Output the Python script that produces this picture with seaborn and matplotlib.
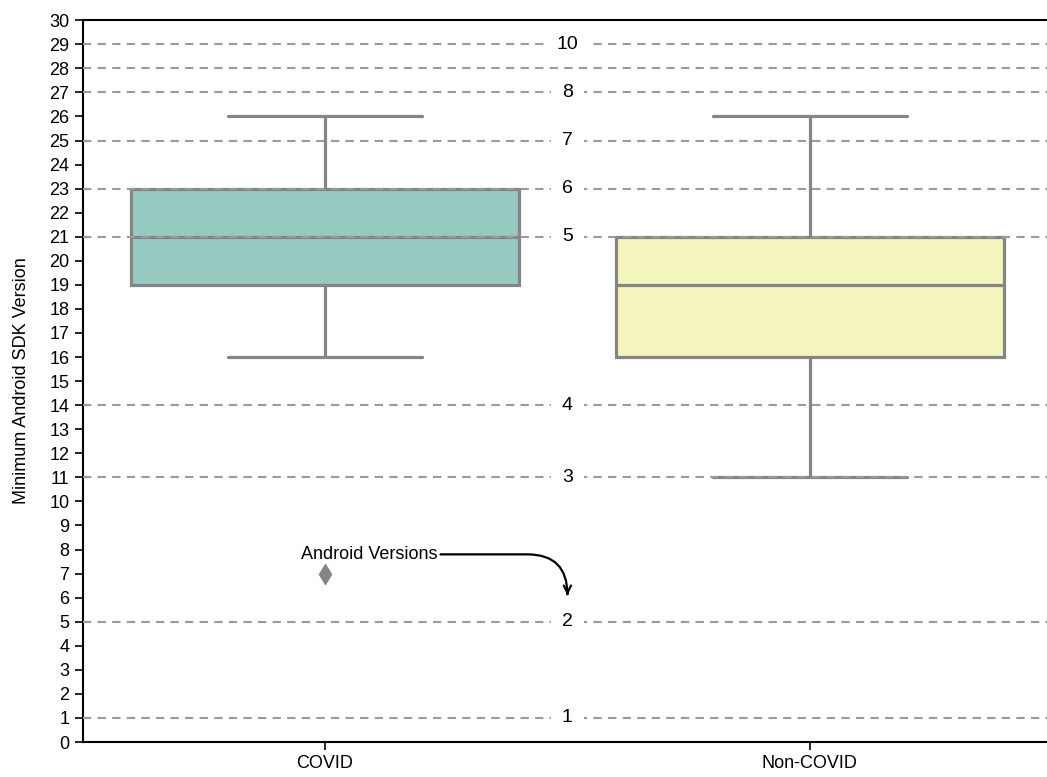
import matplotlib
matplotlib.use("Agg")
import matplotlib.pyplot as plt
import seaborn as sns
import pandas as pd

# Data (raw values chosen to reproduce the drawn quartiles / whiskers / outlier)
covid_sdk = [7, 16, 19, 19, 19, 21, 21, 23, 23, 23, 26]
non_covid_sdk = [11, 16, 16, 16, 19, 19, 19, 21, 21, 21, 26]
groups = ["COVID", "Non-COVID"]
box_colors = ["#96c9c0", "#f4f4bd"]

# Android version reference lines (API level -> version label)
api_levels = [1, 5, 11, 14, 21, 23, 25, 27, 28, 29]
version_labels = ["1", "2", "3", "4", "5", "6", "7", "8", "", "10"]

df = pd.DataFrame({
    "group": [groups[0]] * len(covid_sdk) + [groups[1]] * len(non_covid_sdk),
    "sdk": covid_sdk + non_covid_sdk,
})

sns.set_style("white")
plt.rcParams["font.family"] = ["Liberation Sans", "DejaVu Sans"]
plt.rcParams["text.color"] = "black"
plt.rcParams["axes.labelcolor"] = "black"

fig = plt.figure(figsize=(10.47, 7.77), dpi=100)
ax = fig.add_axes([0.0788, 0.045, 0.9212, 0.929])

gray = "#858585"
sns.boxplot(
    data=df, x="group", y="sdk", hue="group", palette=box_colors,
    order=groups, width=0.8, linewidth=2.3, linecolor=gray, saturation=1,
    flierprops=dict(marker="d", markersize=10, markerfacecolor=gray,
                    markeredgecolor=gray),
    legend=False, ax=ax,
)

# dashed version lines with labels in the middle
for lvl, lab in zip(api_levels, version_labels):
    ax.axhline(lvl, color="#9a9a9a", linestyle=(0, (4, 3)), linewidth=1.5, zorder=3)
    if lab:
        ax.text(0.5, lvl, lab, ha="center", va="center", fontsize=14, zorder=4,
                color="black",
                bbox=dict(facecolor="white", edgecolor="none", pad=8))

ax.annotate(
    "Android Versions", xy=(0.5, 6.1), xytext=(-0.05, 7.8),
    ha="left", va="center", fontsize=13, color="black",
    arrowprops=dict(arrowstyle="->", color="black", lw=1.6,
                    connectionstyle="angle,angleA=0,angleB=90,rad=40",
                    shrinkA=0, shrinkB=0),
    zorder=5,
)

ax.set_ylim(0, 30)
ax.set_xlim(-0.5, 1.489)
ax.set_yticks(range(0, 31))
ax.set_xlabel("")
ax.set_ylabel("Minimum Android SDK Version", fontsize=13, labelpad=14)
ax.tick_params(axis="both", labelsize=13, length=6, width=1.2,
               direction="out", left=True, bottom=True, colors="black")
for side in ["left", "bottom", "top"]:
    ax.spines[side].set_color("black")
    ax.spines[side].set_linewidth(1.5)
ax.spines["right"].set_visible(False)

plt.savefig("out.png", dpi=100)
